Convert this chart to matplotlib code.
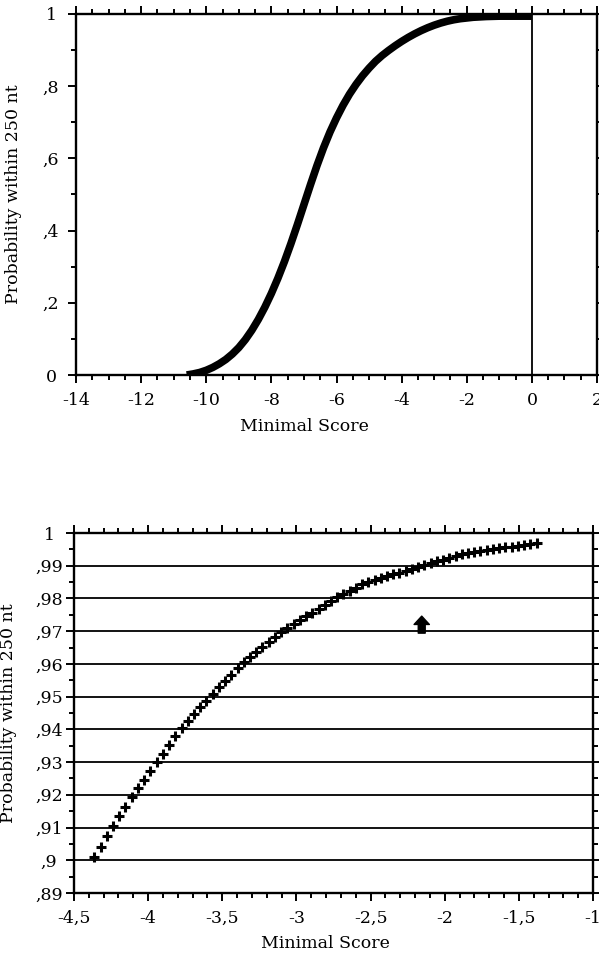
import matplotlib
matplotlib.use("Agg")
import matplotlib.pyplot as plt
from matplotlib.patches import FancyArrowPatch
from matplotlib.ticker import MultipleLocator

# full range: probability of minimal score within 250 nt
score_all = [-10.6, -10.4, -10.2, -10.0, -9.8, -9.6, -9.4, -9.2, -9.0, -8.8,
             -8.6, -8.4, -8.2, -8.0, -7.8, -7.6, -7.4, -7.2, -7.0, -6.8,
             -6.6, -6.4, -6.2, -6.0, -5.8, -5.6, -5.4, -5.2, -5.0, -4.8,
             -4.6, -4.4, -4.2, -4.0, -3.8, -3.6, -3.4, -3.2, -3.0, -2.8,
             -2.6, -2.4, -2.2, -2.0, -1.8, -1.6, -1.4, -1.2, -1.0, -0.8,
             -0.6, -0.4, -0.2, 0.0]
prob_all = [0.000, 0.003, 0.007, 0.013, 0.021, 0.031, 0.043, 0.058, 0.076, 0.098,
            0.124, 0.154, 0.188, 0.226, 0.268, 0.314, 0.364, 0.417, 0.472, 0.527,
            0.580, 0.629, 0.673, 0.712, 0.747, 0.778, 0.805, 0.829, 0.850, 0.869,
            0.885, 0.899, 0.912, 0.924, 0.935, 0.945, 0.954, 0.962, 0.969, 0.975,
            0.980, 0.984, 0.987, 0.989, 0.991, 0.992, 0.993, 0.9935, 0.994, 0.994,
            0.994, 0.994, 0.994, 0.994]

# zoomed tail
score_zoom = [-4.363, -4.321, -4.279, -4.237, -4.195, -4.153, -4.111, -4.069, -4.027, -3.985,
              -3.943, -3.901, -3.859, -3.817, -3.775, -3.733, -3.691, -3.649, -3.607, -3.565,
              -3.523, -3.481, -3.439, -3.397, -3.355, -3.313, -3.271, -3.229, -3.187, -3.145,
              -3.103, -3.061, -3.019, -2.977, -2.935, -2.893, -2.851, -2.809, -2.767, -2.725,
              -2.683, -2.641, -2.599, -2.557, -2.515, -2.473, -2.431, -2.389, -2.347, -2.305,
              -2.263, -2.221, -2.179, -2.137, -2.095, -2.053, -2.011, -1.969, -1.927, -1.885,
              -1.843, -1.801, -1.759, -1.717, -1.675, -1.633, -1.591, -1.549, -1.507, -1.465,
              -1.423, -1.381]
prob_zoom = [0.9009, 0.9042, 0.9075, 0.9106, 0.9135, 0.9164, 0.9192, 0.9220, 0.9246, 0.9273,
             0.9300, 0.9326, 0.9353, 0.9380, 0.9405, 0.9426, 0.9447, 0.9467, 0.9488, 0.9508,
             0.9528, 0.9548, 0.9567, 0.9587, 0.9605, 0.9621, 0.9637, 0.9652, 0.9668, 0.9683,
             0.9699, 0.9711, 0.9722, 0.9734, 0.9746, 0.9757, 0.9769, 0.9780, 0.9792, 0.9804,
             0.9813, 0.9823, 0.9833, 0.9843, 0.9851, 0.9857, 0.9863, 0.9868, 0.9874, 0.9879,
             0.9885, 0.9891, 0.9896, 0.9902, 0.9908, 0.9914, 0.9919, 0.9925, 0.9931, 0.9936,
             0.9939, 0.9942, 0.9945, 0.9948, 0.9951, 0.9953, 0.9956, 0.9958, 0.9961, 0.9963,
             0.9966, 0.9968]

top_xticks = [-14, -12, -10, -8, -6, -4, -2, 0, 2]
top_xlabels = ["-14", "-12", "-10", "-8", "-6", "-4", "-2", "0", "2"]
top_yticks = [0, 0.2, 0.4, 0.6, 0.8, 1.0]
top_ylabels = ["0", ",2", ",4", ",6", ",8", "1"]

bot_xticks = [-4.5, -4, -3.5, -3, -2.5, -2, -1.5, -1]
bot_xlabels = ["-4,5", "-4", "-3,5", "-3", "-2,5", "-2", "-1,5", "-1"]
bot_yticks = [0.89, 0.90, 0.91, 0.92, 0.93, 0.94, 0.95, 0.96, 0.97, 0.98, 0.99, 1.0]
bot_ylabels = [",89", ",9", ",91", ",92", ",93", ",94", ",95", ",96", ",97", ",98", ",99", "1"]

arrow_x = -2.155
arrow_y0, arrow_y1 = 0.9694, 0.9746

plt.rcParams['font.family'] = ['DejaVu Serif']
FS = 12.5

fig = plt.figure(figsize=(5.99, 9.55), dpi=100)
ax1 = fig.add_axes([76/599, 1 - 375/955, 521/599, 361/955])
ax2 = fig.add_axes([74/599, 1 - 893/955, 519/599, 360/955])


def style_axes(ax, xmin, ymin):
    for s in ax.spines.values():
        s.set_linewidth(1.7)
    ax.xaxis.set_minor_locator(MultipleLocator(xmin))
    ax.yaxis.set_minor_locator(MultipleLocator(ymin))
    ax.tick_params(which='both', direction='out', top=True, right=True,
                   labeltop=False, labelright=False, width=1.4)
    ax.tick_params(which='major', length=6)
    ax.tick_params(which='minor', length=3.5)
    ax.tick_params(axis='x', labelsize=FS, pad=6)
    ax.tick_params(axis='y', labelsize=FS, pad=12)
    for lab in ax.get_yticklabels():
        lab.set_horizontalalignment('center')


# top panel
ax1.plot(score_all, prob_all, color='k', lw=5.5, solid_capstyle='butt')
ax1.axvline(0, color='k', lw=1.3)
ax1.set_xlim(-14, 2)
ax1.set_ylim(0, 1)
ax1.set_xticks(top_xticks, top_xlabels)
ax1.set_yticks(top_yticks, top_ylabels)
style_axes(ax1, 0.5, 0.1)
ax1.set_xlabel("Minimal Score", fontsize=FS)
ax1.set_ylabel("Probability within 250 nt", fontsize=FS)
ax1.xaxis.set_label_coords(0.4376, -0.118)
ax1.yaxis.set_label_coords(-0.104, 0.5)

# bottom panel
for yv in bot_yticks[1:-1]:
    ax2.axhline(yv, color='k', lw=1.3, zorder=1)
ax2.plot(score_zoom, prob_zoom, ls='none', marker='+', ms=7, mew=2.2, color='k', zorder=3)
ax2.add_patch(FancyArrowPatch((arrow_x, arrow_y0), (arrow_x, arrow_y1),
                              arrowstyle='simple,head_width=1.1,head_length=0.6,tail_width=0.5',
                              mutation_scale=10, color='k', shrinkA=0, shrinkB=0, zorder=4))
ax2.set_xlim(-4.5, -1)
ax2.set_ylim(0.89, 1.0)
ax2.set_xticks(bot_xticks, bot_xlabels)
ax2.set_yticks(bot_yticks, bot_ylabels)
style_axes(ax2, 0.1, 0.005)
ax2.set_xlabel("Minimal Score", fontsize=FS)
ax2.set_ylabel("Probability within 250 nt", fontsize=FS)
ax2.xaxis.set_label_coords(0.484, -0.118)
ax2.yaxis.set_label_coords(-0.109, 0.5)

fig.savefig("out.png", dpi=100)
